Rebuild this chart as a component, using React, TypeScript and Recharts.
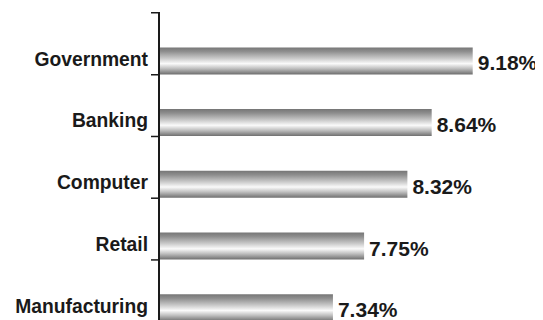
import React from 'react';
import { BarChart, Bar, XAxis, YAxis, LabelList } from 'recharts';

const categories = ['Government', 'Banking', 'Computer', 'Retail', 'Manufacturing'];
const values = [9.18, 8.64, 8.32, 7.75, 7.34];

const data = categories.map((name, i) => ({ name, value: values[i] }));

const FONT = '"Liberation Sans", Arial, Helvetica, sans-serif';
const BAR_SIZE = 27;
const PAD_TOP = 18.4;
const TICK_SIZE = 8;
const TICK_MARGIN = 3;
const INK = '#1a1a1a';

const CategoryTick = (props: any) => {
  const { x, y, payload, index } = props;
  const lx1 = x + TICK_MARGIN;
  const lx2 = lx1 + TICK_SIZE;
  const half = BAR_SIZE / 2;
  const bandHalf = 30.86;
  return (
    <g>
      <text
        x={x}
        y={y + 4.5}
        textAnchor="end"
        fontFamily={FONT}
        fontWeight="bold"
        fontSize={19.3}
        fill={INK}
      >
        {payload.value}
      </text>
      <line x1={lx1} x2={lx2} y1={y + half} y2={y + half} stroke={INK} strokeWidth={1.5} />
      {index === 0 && (
        <line
          x1={lx1}
          x2={lx2}
          y1={y - bandHalf - PAD_TOP + 0.75}
          y2={y - bandHalf - PAD_TOP + 0.75}
          stroke={INK}
          strokeWidth={1.5}
        />
      )}
    </g>
  );
};

const ValueLabel = (props: any) => {
  const { x, y, width, height, value } = props;
  return (
    <text
      x={x + width + 5}
      y={y + height / 2 + 9.5}
      textAnchor="start"
      fontFamily={FONT}
      fontWeight="bold"
      fontSize={21}
      fill={INK}
    >
      {value.toFixed(2)}%
    </text>
  );
};

export default function App() {
  return (
    <div style={{ width: 535, height: 312, overflow: 'hidden' }}>
      <style>{'html,body{overflow:hidden}'}</style>
      <BarChart
        width={535}
        height={331}
        data={data}
        layout="vertical"
        margin={{ top: 4, right: 8, bottom: 0, left: 0 }}
      >
        <defs>
          <linearGradient id="barGrad" x1="0" y1="0" x2="0" y2="1">
            <stop offset="0%" stopColor="#767676" />
            <stop offset="15%" stopColor="#8e8e8e" />
            <stop offset="40%" stopColor="#c8c8c8" />
            <stop offset="60%" stopColor="#fafafa" />
            <stop offset="78%" stopColor="#c0c0c0" />
            <stop offset="100%" stopColor="#6e6e6e" />
          </linearGradient>
        </defs>
        <XAxis type="number" domain={[5.05, 10]} hide allowDataOverflow />
        <YAxis
          type="category"
          dataKey="name"
          width={151}
          tickSize={TICK_SIZE}
          tickMargin={TICK_MARGIN}
          tickLine={false}
          axisLine={{ stroke: INK, strokeWidth: 2 }}
          padding={{ top: PAD_TOP, bottom: 0 }}
          tick={<CategoryTick />}
          interval={0}
        />
        <Bar dataKey="value" fill="url(#barGrad)" barSize={BAR_SIZE} isAnimationActive={false}>
          <LabelList dataKey="value" content={<ValueLabel />} />
        </Bar>
      </BarChart>
    </div>
  );
}
